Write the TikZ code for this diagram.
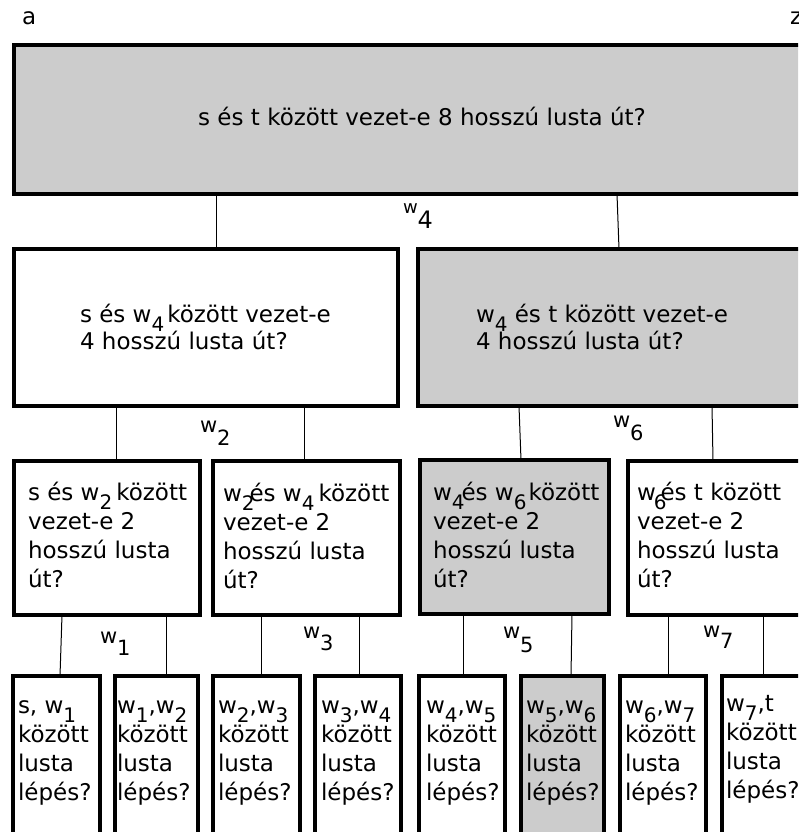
\documentclass[tikz,border=0pt]{standalone}
\usepackage{fontspec}
\setmainfont{DejaVu Sans}
\definecolor{boxgray}{RGB}{204,204,204}
\newcommand{\ws}[1]{w\raisebox{-9pt}[0pt][0pt]{\fontsize{20}{20}\selectfont #1}}
\newcommand{\lw}[4]{{\fontsize{#1}{#1}\selectfont w}\raisebox{-#3}[0pt][0pt]{\fontsize{#2}{#2}\selectfont #4}}
\newcommand{\tl}[1]{\begin{tabular}[t]{@{}l@{}}#1\end{tabular}}
\begin{document}
\begin{tikzpicture}[x=1pt,y=-1pt,
  box/.style={draw=black, line width=4pt, inner sep=0pt, outer sep=0pt},
  leaf/.style={draw=black, line width=3.5pt, inner sep=0pt, outer sep=0pt},
  txt/.style={inner sep=0pt, outer sep=0pt, font=\fontsize{23}{29}\selectfont, anchor=base west},
  txtb/.style={txt, font=\fontsize{23}{27}\selectfont},
  conn/.style={line width=1pt},
  lab/.style={inner sep=0pt, outer sep=0pt, anchor=base west}]
\useasboundingbox (0,0) rectangle (798,832);
\fill[white] (0,0) rectangle (798,832);
\clip (0,0) rectangle (798,832);

% corner letters
\node[lab, font=\fontsize{23}{23}\selectfont] (la) at (22,25) {a};
\node[lab, font=\fontsize{23}{23}\selectfont] (lz) at (790,25) {z};

% boxes
\node[box, fill=boxgray, minimum width=816, minimum height=149] (top) at (422,119.5) {};
\node[box, minimum width=384, minimum height=157] (l2a) at (206,327.5) {};
\node[box, fill=boxgray, minimum width=384, minimum height=157] (l2b) at (610,327.5) {};
\node[box, minimum width=186, minimum height=154] (l3a) at (107,538) {};
\node[box, minimum width=187, minimum height=154] (l3b) at (306.5,538) {};
\node[box, fill=boxgray, minimum width=189, minimum height=154] (l3c) at (514.5,537) {};
\node[box, minimum width=188, minimum height=154] (l3d) at (722,538) {};
\node[leaf, minimum width=87, minimum height=204] (l4a) at (56.5,778) {};
\node[leaf, minimum width=83, minimum height=204] (l4b) at (156.5,778) {};
\node[leaf, minimum width=87, minimum height=204] (l4c) at (256.5,778) {};
\node[leaf, minimum width=86, minimum height=204] (l4d) at (358,778) {};
\node[leaf, minimum width=86, minimum height=204] (l4e) at (462,778) {};
\node[leaf, fill=boxgray, minimum width=83, minimum height=204] (l4f) at (562.5,778) {};
\node[leaf, minimum width=86, minimum height=204] (l4g) at (663,778) {};
\node[leaf, minimum width=86, minimum height=204] (l4h) at (765,778) {};

% connectors
\draw[conn] ([xshift=202]top.south west) -- ([xshift=202]l2a.north west);
\draw[conn] ([xshift=603]top.south west) -- ([xshift=201]l2b.north west);
\draw[conn] ([xshift=102]l2a.south west) -- ([xshift=102]l3a.north west);
\draw[conn] ([xshift=290]l2a.south west) -- ([xshift=91]l3b.north west);
\draw[conn] ([xshift=101]l2b.south west) -- ([xshift=101]l3c.north west);
\draw[conn] ([xshift=294]l2b.south west) -- ([xshift=85]l3d.north west);
\draw[conn] ([xshift=48]l3a.south west) -- ([xshift=47]l4a.north west);
\draw[conn] ([xshift=152]l3a.south west) -- ([xshift=51]l4b.north west);
\draw[conn] ([xshift=48]l3b.south west) -- ([xshift=48]l4c.north west);
\draw[conn] ([xshift=146]l3b.south west) -- ([xshift=44]l4d.north west);
\draw[conn] ([xshift=43]l3c.south west) -- ([xshift=44]l4e.north west);
\draw[conn] ([xshift=152]l3c.south west) -- ([xshift=50]l4f.north west);
\draw[conn] ([xshift=40]l3d.south west) -- ([xshift=48]l4g.north west);
\draw[conn] ([xshift=135]l3d.south west) -- ([xshift=41]l4h.north west);

% connector labels
\node[lab] (w4) at (403,213) {\lw{18}{24}{15pt}{4}};
\node[lab] (w2) at (200,432) {\lw{21}{21}{13pt}{2}};
\node[lab] (w6) at (613,427) {\lw{21}{21}{13pt}{6}};
\node[lab] (w1) at (100,643) {\lw{21}{21}{12pt}{1}};
\node[lab] (w3) at (303,638) {\lw{21}{21}{12pt}{3}};
\node[lab] (w5) at (503,638) {\lw{21}{21}{14pt}{5}};
\node[lab] (w7) at (703,637) {\lw{21}{21}{11pt}{7}};

% texts
\node[txt, anchor=base] (ttop) at (422,125) {s és t között vezet-e 8 hosszú lusta út?};
\node[txtb] (t2a) at (80,322) {\tl{s és \ws{4}\hspace{3pt}között vezet-e\\4 hosszú lusta út?}};
\node[txtb] (t2b) at (476,322) {\tl{\ws{4} és t között vezet-e\\4 hosszú lusta út?}};
\node[txt] (t3a) at (28,500) {\tl{s és \ws{2}\hspace{4pt}között\\vezet-e 2\\hosszú lusta\\út?}};
\node[txt] (t3b) at (223,501) {\tl{\ws{2}\hspace{-5pt}és \ws{4}\hspace{4pt}között\\vezet-e 2\\hosszú lusta\\út?}};
\node[txt] (t3c) at (433,500) {\tl{\ws{4}\hspace{-3pt}és \ws{6}\hspace{2pt}között\\vezet-e 2\\hosszú lusta\\út?}};
\node[txt] (t3d) at (637,500) {\tl{w\hspace{-2pt}\raisebox{-9pt}[0pt][0pt]{\fontsize{20}{20}\selectfont 6}\hspace{-6pt}és t között\\vezet-e 2\\hosszú lusta\\út?}};

\node[txt] (t4a) at (18,713) {\tl{s, \ws{1}\\között\\lusta\\lépés?}};
\node[txt] (t4b) at (117,713) {\tl{\ws{1},\ws{2}\\között\\lusta\\lépés?}};
\node[txt] (t4c) at (218,713) {\tl{\ws{2},\ws{3}\\között\\lusta\\lépés?}};
\node[txt] (t4d) at (321,713) {\tl{\ws{3},\ws{4}\\között\\lusta\\lépés?}};
\node[txt] (t4e) at (426,713) {\tl{\ws{4},\ws{5}\\között\\lusta\\lépés?}};
\node[txt] (t4f) at (526,713) {\tl{\ws{5},\ws{6}\\között\\lusta\\lépés?}};
\node[txt] (t4g) at (625,713) {\tl{\ws{6},\ws{7}\\között\\lusta\\lépés?}};
\node[txt] (t4h) at (726,711) {\tl{\ws{7},t\\között\\lusta\\lépés?}};
\end{tikzpicture}
\end{document}
